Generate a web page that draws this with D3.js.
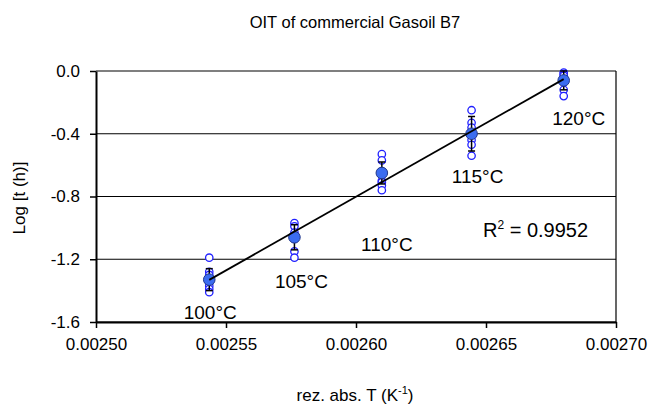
<!DOCTYPE html>
<html>
<head>
<meta charset="utf-8">
<script src="https://cdn.jsdelivr.net/npm/d3@7"></script>
<style>
  body { margin: 0; background: #fff; }
  text { font-family: "Liberation Sans", Arial, sans-serif; fill: #000; }
</style>
</head>
<body>
<svg id="chart"></svg>
<script>
// temperatures and their reciprocal absolute temperature (1/K) as plotted
const tempLabels = ["100°C", "105°C", "110°C", "115°C", "120°C"];
const invT = [0.00254356, 0.00257632, 0.00260994, 0.00264445, 0.00267989];

// single measurements, log t (h)
const runs = [
    [-1.19, -1.28, -1.30, -1.35, -1.37, -1.39, -1.41],
    [-0.97, -0.99, -1.03, -1.05, -1.07, -1.15, -1.19],
    [-0.53, -0.57, -0.64, -0.70, -0.71, -0.73, -0.76],
    [-0.25, -0.33, -0.36, -0.44, -0.47, -0.54],
    [-0.01, -0.02, -0.03, -0.07, -0.12, -0.16]
];
// mean values and standard deviation
const means = [-1.33, -1.06, -0.65, -0.40, -0.06];
const sds = [0.07, 0.08, 0.07, 0.11, 0.06];

const xTicks = [0.00250, 0.00255, 0.00260, 0.00265, 0.00270];
const xTickLabels = ["0.00250", "0.00255", "0.00260", "0.00265", "0.00270"];
const yTicks = [0.0, -0.4, -0.8, -1.2, -1.6];
const yTickLabels = ["0.0", "-0.4", "-0.8", "-1.2", "-1.6"];

const rSquared = "0.9952";

const svgWidth = 655;
const svgHeight = 407;
const plot = { left: 96, right: 616, top: 71, bottom: 322 };

const svg = d3.select("#chart")
    .attr("width", svgWidth)
    .attr("height", svgHeight);

const xScale = d3.scaleLinear()
    .domain([0.00250, 0.00270])
    .range([plot.left, plot.right]);

const yScale = d3.scaleLinear()
    .domain([-1.6, 0.0])
    .range([plot.bottom, plot.top]);

// horizontal gridlines
svg.append("g")
    .selectAll("line")
    .data(yTicks)
    .enter().append("line")
    .attr("x1", plot.left)
    .attr("x2", plot.right)
    .attr("y1", d => yScale(d))
    .attr("y2", d => yScale(d))
    .attr("stroke", "#000")
    .attr("stroke-width", 1.2);

// right border
svg.append("line")
    .attr("x1", plot.right).attr("x2", plot.right)
    .attr("y1", plot.top).attr("y2", plot.bottom)
    .attr("stroke", "#000").attr("stroke-width", 1.2);

// y axis
const yAxis = d3.axisLeft(yScale)
    .tickValues(yTicks)
    .tickFormat((d, i) => yTickLabels[i])
    .tickSizeInner(6)
    .tickSizeOuter(0)
    .tickPadding(10);

const yG = svg.append("g")
    .attr("transform", `translate(${plot.left},0)`)
    .call(yAxis);

// x axis
const xAxis = d3.axisBottom(xScale)
    .tickValues(xTicks)
    .tickFormat((d, i) => xTickLabels[i])
    .tickSizeInner(6)
    .tickSizeOuter(0)
    .tickPadding(10);

const xG = svg.append("g")
    .attr("transform", `translate(0,${plot.bottom})`)
    .call(xAxis);

[yG, xG].forEach(g => {
    g.select(".domain").attr("stroke", "#000").attr("stroke-width", 2);
    g.selectAll(".tick line").attr("stroke", "#000").attr("stroke-width", 1.5);
    g.selectAll(".tick text")
        .style("font-family", "'Liberation Sans', Arial, sans-serif")
        .style("font-size", "17px")
        .attr("fill", "#000");
});

// single measurements (open circles)
runs.forEach((vals, i) => {
    svg.append("g")
        .selectAll("circle")
        .data(vals)
        .enter().append("circle")
        .attr("cx", xScale(invT[i]))
        .attr("cy", d => yScale(d))
        .attr("r", 3.7)
        .attr("fill", "#fff")
        .attr("stroke", "#2020ff")
        .attr("stroke-width", 1.3);
});

// error bars
const bars = svg.append("g");
means.forEach((m, i) => {
    const x = xScale(invT[i]);
    [m - sds[i], m + sds[i]].forEach(end => {
        bars.append("line")
            .attr("x1", x).attr("x2", x)
            .attr("y1", yScale(m)).attr("y2", yScale(end))
            .attr("stroke", "#000").attr("stroke-width", 1.5);
        bars.append("line")
            .attr("x1", x - 3.5).attr("x2", x + 3.5)
            .attr("y1", yScale(end)).attr("y2", yScale(end))
            .attr("stroke", "#000").attr("stroke-width", 1.5);
    });
});

// mean values (filled)
svg.append("g")
    .selectAll("circle")
    .data(means)
    .enter().append("circle")
    .attr("cx", (d, i) => xScale(invT[i]))
    .attr("cy", d => yScale(d))
    .attr("r", 5.8)
    .attr("fill", "#3b6cf0")
    .attr("stroke", "#23388a")
    .attr("stroke-width", 1);

// linear regression through the means
const mx = d3.mean(invT);
const my = d3.mean(means);
const sxy = d3.sum(invT, (x, i) => (x - mx) * (means[i] - my));
const sxx = d3.sum(invT, x => (x - mx) * (x - mx));
const slope = sxy / sxx;
const icpt = my - slope * mx;
const xs = d3.extent(invT);

svg.append("line")
    .attr("x1", xScale(xs[0]))
    .attr("y1", yScale(icpt + slope * xs[0]))
    .attr("x2", xScale(xs[1]))
    .attr("y2", yScale(icpt + slope * xs[1]))
    .attr("stroke", "#000")
    .attr("stroke-width", 1.8);

// temperature labels
const labelDx = [1, 7, 5, 6, 15];
const labelY = [-1.58, -1.383, -1.147, -0.714, -0.344];
svg.append("g")
    .selectAll("text")
    .data(tempLabels)
    .enter().append("text")
    .attr("x", (d, i) => xScale(invT[i]) + labelDx[i])
    .attr("y", (d, i) => yScale(labelY[i]))
    .attr("text-anchor", "middle")
    .style("font-size", "19px")
    .text(d => d);

// R squared
const rText = svg.append("text")
    .attr("x", 483)
    .attr("y", 237)
    .style("font-size", "20px");
rText.append("tspan").text("R");
rText.append("tspan").attr("dy", -8).style("font-size", "12px").text("2");
rText.append("tspan").attr("dy", 8).text(" = " + rSquared);

// title
svg.append("text")
    .attr("x", 355)
    .attr("y", 28)
    .attr("text-anchor", "middle")
    .style("font-size", "16.5px")
    .text("OIT of commercial Gasoil B7");

// x axis title
const xt = svg.append("text")
    .attr("x", 355)
    .attr("y", 401)
    .attr("text-anchor", "middle")
    .style("font-size", "17px");
xt.append("tspan").text("rez. abs. T (K");
xt.append("tspan").attr("dy", -7).style("font-size", "11px").text("-1");
xt.append("tspan").attr("dy", 7).text(")");

// y axis title
svg.append("text")
    .attr("transform", "rotate(-90)")
    .attr("x", -198)
    .attr("y", 25)
    .attr("text-anchor", "middle")
    .style("font-size", "17px")
    .text("Log [t (h)]");
</script>
</body>
</html>
